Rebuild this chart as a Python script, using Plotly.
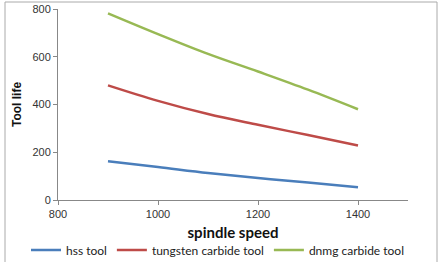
import plotly.graph_objects as go

speed = [900, 1000, 1100, 1200, 1300, 1400]
hss = [162, 138, 113, 92, 73, 53]
tungsten = [480, 415, 360, 315, 272, 228]
dnmg = [782, 695, 612, 538, 462, 380]

series_names = ["hss tool", "tungsten carbide tool", "dnmg carbide tool"]
colors = ["#4a7ebb", "#be4b48", "#98b954"]

fig = go.Figure()
for name, vals, c in zip(series_names, [hss, tungsten, dnmg], colors):
    fig.add_trace(go.Scatter(x=speed, y=vals, name=name, mode="lines",
                             line=dict(color=c, width=2.5, shape="spline")))

fig.update_layout(
    width=444, height=262,
    margin=dict(l=58, r=36, t=9, b=62, autoexpand=False),
    paper_bgcolor="white", plot_bgcolor="white",
    font=dict(family="Liberation Sans, Arial", size=11, color="#333"),
    showlegend=True,
    legend=dict(orientation="h", xref="paper", yref="paper",
                x=(26 - 58) / 350, xanchor="left", y=(200 - 250) / 191, yanchor="middle",
                font=dict(family="Lato, Liberation Sans", size=12, color="#222"),
                tracegroupgap=0, bgcolor="rgba(0,0,0,0)"),
    xaxis=dict(range=[800, 1500], tickvals=[800, 1000, 1200, 1400],
               showgrid=False, zeroline=False, showline=True, linecolor="#888",
               linewidth=1, ticks="outside", ticklen=4, tickcolor="#888",
               tickfont=dict(size=11, color="#333"), automargin=False,
               title=dict(text="<b>spindle speed</b>", standoff=8,
                          font=dict(family="Lato, Liberation Sans", size=15, color="#111"))),
    yaxis=dict(range=[0, 800], tickvals=[0, 200, 400, 600, 800],
               showgrid=False, zeroline=False, showline=True, linecolor="#888",
               linewidth=1, ticks="outside", ticklen=4, tickcolor="#888",
               tickfont=dict(size=11, color="#333"), automargin=False,
               title=dict(text="<b>Tool life</b>", standoff=8,
                          font=dict(family="Liberation Sans, Arial", size=12, color="#111"))),
)

fig.add_shape(type="rect", xref="paper", yref="paper",
              x0=(5 - 58) / 350, x1=(437 - 58) / 350,
              y0=(200 - 266) / 191, y1=(200 - 2) / 191,
              line=dict(color="#aaaaaa", width=1), layer="below")

fig.write_html("out.html")
